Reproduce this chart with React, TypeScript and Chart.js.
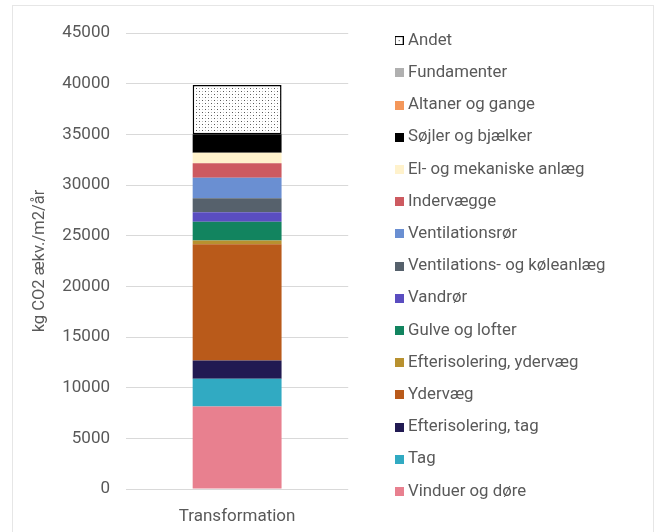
import React, { useEffect, useRef } from 'react';
import { Chart, registerables } from 'chart.js';

Chart.register(...registerables);

const categories = ['Transformation'];

const vinduerOgDoere = [8150];
const tag = [2730];
const efterisoleringTag = [1800];
const ydervaeg = [11480];
const efterisoleringYdervaeg = [355];
const gulveOgLofter = [1870];
const vandroer = [930];
const ventilationsOgKoeleanlaeg = [1380];
const ventilationsroer = [2030];
const indervaegge = [1420];
const elOgMekaniskeAnlaeg = [1045];
const soejlerOgBjaelker = [1815];
const altanerOgGange = [0];
const fundamenter = [0];
const andet = [4860];

const yTicks = [0, 5000, 10000, 15000, 20000, 25000, 30000, 35000, 40000, 45000];
const yTitle = 'kg CO2 ækv./m2/år';

const seriesNames = [
  'Vinduer og døre',
  'Tag',
  'Efterisolering, tag',
  'Ydervæg',
  'Efterisolering, ydervæg',
  'Gulve og lofter',
  'Vandrør',
  'Ventilations- og køleanlæg',
  'Ventilationsrør',
  'Indervægge',
  'El- og mekaniske anlæg',
  'Søjler og bjælker',
  'Altaner og gange',
  'Fundamenter',
  'Andet',
];
const seriesValues = [
  vinduerOgDoere,
  tag,
  efterisoleringTag,
  ydervaeg,
  efterisoleringYdervaeg,
  gulveOgLofter,
  vandroer,
  ventilationsOgKoeleanlaeg,
  ventilationsroer,
  indervaegge,
  elOgMekaniskeAnlaeg,
  soejlerOgBjaelker,
  altanerOgGange,
  fundamenter,
  andet,
];
const seriesColors = [
  '#E8808F',
  '#31AAC2',
  '#211A52',
  '#B95A1A',
  '#B8912F',
  '#12845F',
  '#5A4DC0',
  '#56616C',
  '#6A8FD2',
  '#CD5A60',
  '#FFF2CC',
  '#000000',
  '#F4975A',
  '#B0B0B0',
  'PATTERN',
];

const TEXT = '#595959';
const FONT = 'Roboto, "Noto Sans", sans-serif';

function makePattern(): HTMLCanvasElement {
  const c = document.createElement('canvas');
  c.width = 6;
  c.height = 6;
  const g = c.getContext('2d')!;
  g.fillStyle = '#ffffff';
  g.fillRect(0, 0, 6, 6);
  g.fillStyle = '#555555';
  g.fillRect(1, 1, 1, 1);
  g.fillRect(4, 4, 1, 1);
  g.fillStyle = '#bbbbbb';
  g.fillRect(1, 4, 1, 1);
  g.fillRect(4, 1, 1, 1);
  return c;
}

function makeSwatch(color: string): HTMLCanvasElement {
  const c = document.createElement('canvas');
  c.width = 9;
  c.height = 9;
  const g = c.getContext('2d')!;
  if (color === 'PATTERN') {
    g.fillStyle = '#ffffff';
    g.fillRect(0, 0, 9, 9);
    g.strokeStyle = '#000000';
    g.lineWidth = 1;
    g.strokeRect(0.5, 0.5, 8, 8);
    g.fillStyle = '#333333';
    g.fillRect(4, 4, 1, 1);
  } else {
    g.fillStyle = color;
    g.fillRect(0, 0, 9, 9);
  }
  return c;
}

export default function App() {
  const ref = useRef<HTMLCanvasElement>(null);

  useEffect(() => {
    const canvas = ref.current;
    if (!canvas) return;
    const ctx = canvas.getContext('2d')!;
    const pattern = ctx.createPattern(makePattern(), 'repeat')!;
    const swatches = seriesColors.map(makeSwatch);

    const datasets = seriesNames.map((name, i) => {
      const isPattern = seriesColors[i] === 'PATTERN';
      return {
        label: name,
        data: seriesValues[i],
        backgroundColor: isPattern ? pattern : seriesColors[i],
        borderColor: '#000000',
        borderWidth: isPattern ? 1.5 : 0,
        borderSkipped: false as const,
        categoryPercentage: 1,
        barPercentage: 0.4,
        yAxisID: 'y',
      };
    });

    const chart = new Chart(ctx, {
      type: 'bar',
      data: { labels: categories, datasets },
      options: {
        animation: false,
        responsive: false,
        maintainAspectRatio: false,
        layout: { padding: { left: 26.1, right: 41.6, top: 0, bottom: 0 } },
        plugins: {
          tooltip: { enabled: false },
          title: {
            display: true,
            text: '',
            fullSize: false,
            font: { size: 10 },
            padding: { top: 21, bottom: 0 },
          },
          legend: {
            position: 'right',
            align: 'center',
            reverse: true,
            maxWidth: 330,
            labels: {
              usePointStyle: true,
              pointStyleWidth: 1,
              boxHeight: 9,
              padding: 15.4,
              color: TEXT,
              font: { family: FONT, size: 16.8 },
              generateLabels: (ch: any) => {
                const items = Chart.defaults.plugins.legend.labels.generateLabels(ch);
                return items.map((it: any) => ({
                  ...it,
                  pointStyle: swatches[it.datasetIndex],
                  lineWidth: 0,
                }));
              },
            },
          },
        },
        scales: {
          x: {
            stacked: true,
            grid: { display: false },
            border: { display: false },
            ticks: { color: TEXT, font: { family: FONT, size: 17 }, padding: 9.5 },
            afterFit: (s: any) => {
              s.height = 43;
            },
          },
          y: {
            stacked: true,
            min: 0,
            max: 45000,
            afterBuildTicks: (s: any) => {
              s.ticks = yTicks.map((v) => ({ value: v }));
            },
            grid: { color: '#D9D9D9', lineWidth: 1, drawTicks: false },
            border: { display: false },
            ticks: {
              color: TEXT,
              font: { family: FONT, size: 17 },
              padding: 16,
              callback: (v: any) => String(v),
            },
            title: {
              display: true,
              text: yTitle,
              color: TEXT,
              font: { family: FONT, size: 16.5 },
              padding: { top: 4, bottom: 4 },
            },
            afterFit: (s: any) => {
              s.width = 99.9;
            },
          },
          y2: {
            position: 'right',
            display: true,
            grid: { display: false },
            border: { display: false },
            ticks: { display: false },
            afterFit: (s: any) => {
              s.width = 35;
            },
          },
        },
      },
    });
    return () => chart.destroy();
  }, []);

  return (
    <div style={{ position: 'fixed', left: 0, top: 0, width: 657, height: 532, background: '#fff', overflow: 'hidden' }}>
      <div
        style={{
          position: 'absolute',
          left: 12,
          top: 5,
          width: 642,
          height: 560,
          border: '1px solid #E6E6E6',
          boxSizing: 'border-box',
        }}
      />
      <canvas ref={ref} width={657} height={532} style={{ position: 'absolute', left: 0, top: 0, width: 657, height: 532 }} />
    </div>
  );
}
